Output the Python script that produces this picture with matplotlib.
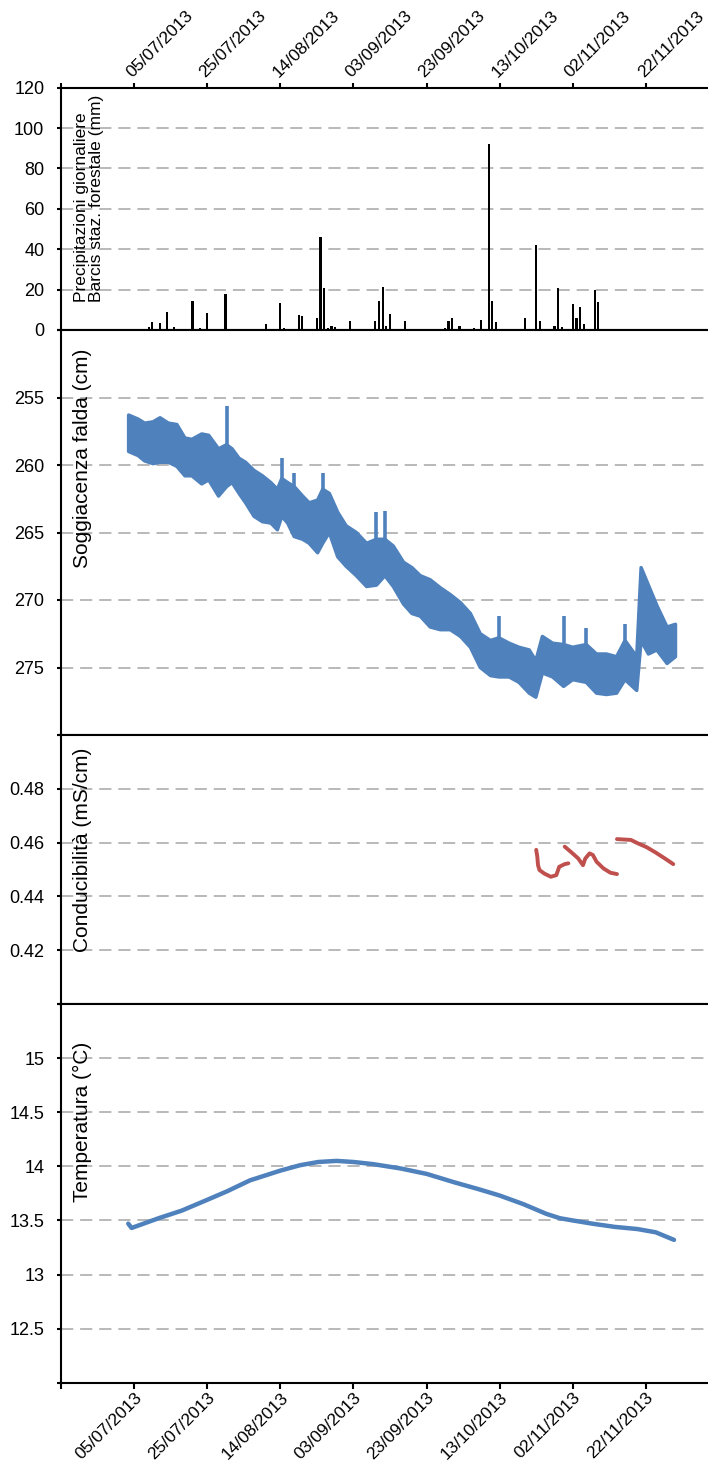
import numpy as np
import pandas as pd
import matplotlib
matplotlib.use('Agg')
import matplotlib.pyplot as plt
import matplotlib.dates as mdates

plt.rcParams['font.family'] = ['Liberation Sans', 'DejaVu Sans']

# all x values are days counted from 05/07/2013
START = pd.Timestamp('2013-07-05')

# daily rainfall, Barcis staz. forestale (mm)
rain_day = [-1, 4, 5, 7, 8, 9, 11, 16, 18, 20, 25, 36, 40, 41, 45, 46,
            50, 51, 52, 53, 54, 55, 59, 66, 67, 68, 69, 70, 74,
            85, 86, 87, 89, 92, 93, 95, 97, 98, 99, 107, 110, 111,
            115, 116, 117, 120, 121, 122, 123, 126, 127]
rain_mm = [0.5, 1.3, 4.0, 3.5, 0.5, 9.0, 1.3, 14.5, 0.8, 8.6, 17.8, 3.0, 13.4, 1.2, 7.3, 7.0,
           5.8, 46.0, 20.6, 0.8, 2.2, 1.3, 4.6, 4.6, 14.2, 21.1, 2.0, 7.9, 4.6,
           0.8, 4.6, 5.8, 2.1, 0.5, 1.2, 5.0, 92.2, 14.2, 4.0, 5.8, 42.0, 4.6,
           2.1, 20.6, 1.3, 12.9, 5.8, 11.2, 3.0, 19.8, 13.7]

# water table depth: upper / lower edge of the readings (cm)
gw_day = [-1.5, 1.1, 2.9, 5.2, 7.1, 9.4, 11.7, 13.9, 15.8, 18.5, 20.4, 23.1, 25.3, 26.8,
          28.7, 30.5, 32.8, 35.1, 37.4, 39.2, 40.4, 42.0, 43.8, 46.1, 47.9, 50.2, 51.6,
          53.4, 55.7, 58.0, 60.8, 63.6, 66.3, 68.6, 70.9, 73.7, 76.0, 78.3, 81.0, 83.8,
          86.5, 89.3, 92.0, 94.7, 97.5, 99.8, 102.6, 105.3, 108.1, 109.9, 111.7, 114.5,
          117.5, 120.0, 123.7, 126.5, 129.2, 132.0, 134.3, 137.5, 138.7, 140.7, 143.0,
          145.8, 148.1]
gw_top = [256.3, 256.6, 256.9, 256.8, 256.5, 256.9, 257.0, 258.0, 258.1, 257.7, 257.8, 258.8, 258.5, 258.8,
          259.5, 259.8, 260.4, 260.8, 261.3, 261.8, 261.0, 261.3, 261.6, 262.3, 262.8, 262.6, 261.8,
          262.1, 263.5, 264.5, 265.0, 265.8, 265.5, 265.5, 266.0, 267.2, 267.6, 268.2, 268.5, 269.1,
          269.6, 270.2, 271.0, 272.5, 273.0, 272.8, 273.2, 273.5, 273.7, 274.5, 272.7, 273.2,
          273.3, 273.5, 273.3, 274.0, 274.0, 274.2, 273.0, 274.2, 267.6, 268.9, 270.4,
          272.0, 271.8]
gw_bot = [259.0, 259.3, 259.7, 259.9, 259.8, 259.8, 260.1, 260.8, 260.8, 261.4, 261.1, 262.3, 261.6, 261.3,
          262.1, 262.8, 263.8, 264.2, 264.3, 264.8, 263.8, 264.3, 265.3, 265.5, 265.8, 266.5, 265.8,
          265.0, 266.8, 267.5, 268.2, 269.0, 268.9, 268.2, 269.0, 270.3, 271.0, 271.2, 272.0, 272.2,
          272.2, 272.7, 273.5, 275.0, 275.6, 275.7, 275.7, 276.1, 276.9, 277.2, 275.4, 275.7,
          276.4, 275.9, 276.1, 276.9, 277.0, 276.9, 275.9, 276.7, 273.0, 274.0, 273.7,
          274.7, 274.2]
# short rises of the water table
spike_day = [25.3, 40.4, 43.8, 51.6, 66.3, 68.6, 99.8, 117.5, 123.7, 134.3]
spike_top = [255.6, 259.5, 260.6, 260.6, 263.5, 263.4, 271.2, 271.2, 272.1, 271.8]
spike_base = [259.0, 261.5, 262.0, 262.0, 266.0, 266.0, 273.5, 274.0, 274.0, 274.0]

# electrical conductivity (mS/cm), three logger runs
cond_a_day = [110.0, 110.3, 110.5, 110.9, 112.2, 114.0, 115.5, 116.3, 117.8, 118.8]
cond_a_val = [0.4573, 0.4548, 0.4516, 0.4498, 0.4485, 0.4473, 0.4479, 0.4510, 0.4520, 0.4523]
cond_b_day = [117.8, 119.7, 121.5, 122.8, 123.4, 124.6, 125.5, 126.5, 128.4, 130.3, 132.1]
cond_b_val = [0.4585, 0.4563, 0.4541, 0.4516, 0.4540, 0.4560, 0.4554, 0.4529, 0.4504, 0.4488, 0.4483]
cond_c_day = [132.1, 135.9, 137.7, 140.2, 142.7, 145.2, 147.5]
cond_c_val = [0.4613, 0.4610, 0.4598, 0.4583, 0.4563, 0.4541, 0.4520]

# groundwater temperature (°C)
temp_day = [-1.6, -0.7, 6.7, 13.0, 20.0, 25.5, 31.7, 40.0, 45.4, 50.4, 55.4, 60.0, 65.4,
            72.9, 80.0, 87.8, 94.1, 100.0, 106.5, 112.8, 116.5, 119.9, 125.3, 131.5,
            137.7, 142.7, 147.7]
temp_val = [13.47, 13.43, 13.52, 13.59, 13.69, 13.77, 13.87, 13.96, 14.01, 14.04, 14.05, 14.04, 14.02,
            13.98, 13.93, 13.85, 13.79, 13.73, 13.65, 13.56, 13.52, 13.50, 13.47, 13.44,
            13.42, 13.39, 13.32]

tick_dates = ['2013-06-15', '2013-07-05', '2013-07-25', '2013-08-14', '2013-09-03',
              '2013-09-23', '2013-10-13', '2013-11-02', '2013-11-22']


def to_num(days):
    # matplotlib date numbers for a list of day offsets
    return mdates.date2num(START.to_pydatetime()) + np.asarray(days, dtype=float)


BLUE = '#4F81BD'
RED = '#C0504D'
GRID = dict(color='#A6A6A6', linewidth=1.1, linestyle=(0, (8, 4.5)))
W, H = 708, 1461

fig = plt.figure(figsize=(W / 100, H / 100), dpi=100)


def add_panel(top, bottom):
    ax = fig.add_axes([61 / W, 1 - bottom / H, (W - 61) / W, (bottom - top) / H])
    ax.spines['right'].set_visible(False)
    for s in ['left', 'top', 'bottom']:
        ax.spines[s].set_linewidth(1.5)
    ax.set_xlim(mdates.datestr2num('2013-06-15'), mdates.datestr2num('2013-12-09'))
    ax.set_xticks(mdates.datestr2num(tick_dates))
    ax.xaxis.set_major_formatter(mdates.DateFormatter('%d/%m/%Y'))
    ax.tick_params(axis='x', bottom=False, labelbottom=False, length=3.5, width=1.5)
    ax.tick_params(axis='y', direction='out', length=3, width=1.5, pad=9, labelsize=13)
    ax.yaxis.grid(True, **GRID)
    ax.set_axisbelow(True)
    return ax


def set_y(ax, ticks, labels):
    ax.set_yticks(ticks)
    ax.set_yticklabels(labels)


labels = [''] + [pd.Timestamp(d).strftime('%d/%m/%Y') for d in tick_dates[1:]]

# rainfall
ax1 = add_panel(87.7, 330)
ax1.bar(to_num(rain_day), rain_mm, width=0.6, color='black')
ax1.set_ylim(0, 120)
set_y(ax1, range(0, 121, 20), [str(v) for v in range(0, 121, 20)])
ax1.tick_params(axis='x', top=True, labeltop=True, labelsize=12.5, pad=2)
ax1.set_xticklabels(labels)
for t in ax1.get_xticklabels():
    t.set_rotation(45)
    t.set_ha('left')
    t.set_va('bottom')
    t.set_rotation_mode('anchor')

# water table depth: band between the two edges, outlined with round joins
ax2 = add_panel(330, 735)
gx = to_num(gw_day)
ax2.fill(np.concatenate([gx, gx[::-1]]), np.concatenate([gw_top, gw_bot[::-1]]),
         facecolor=BLUE, edgecolor=BLUE, linewidth=2.5, joinstyle='round')
ax2.vlines(to_num(spike_day), spike_top, spike_base, color=BLUE, linewidth=2.6)
ax2.set_ylim(280, 250)
set_y(ax2, range(250, 281, 5), [''] + [str(v) for v in range(255, 276, 5)] + [''])

# conductivity
ax3 = add_panel(735, 1004)
for d, v in [(cond_a_day, cond_a_val), (cond_b_day, cond_b_val), (cond_c_day, cond_c_val)]:
    ax3.plot(to_num(d), v, color=RED, linewidth=2.8, solid_capstyle='round')
ax3.set_ylim(0.40, 0.50)
set_y(ax3, [0.40, 0.42, 0.44, 0.46, 0.48, 0.50], ['', '0.42', '0.44', '0.46', '0.48', ''])
ax3.tick_params(axis='x', bottom=True, direction='out', length=3)

# temperature
ax4 = add_panel(1004, 1382.7)
ax4.plot(to_num(temp_day), temp_val, color=BLUE, linewidth=3.2, solid_capstyle='round')
ax4.set_ylim(12.0, 15.5)
set_y(ax4, [12.0, 12.5, 13.0, 13.5, 14.0, 14.5, 15.0, 15.5],
      ['', '12.5', '13', '13.5', '14', '14.5', '15', ''])
ax4.tick_params(axis='x', bottom=True, labelbottom=True, direction='out', length=4,
                labelsize=12.5, pad=1)
ax4.set_xticklabels(labels)
for t in ax4.get_xticklabels():
    t.set_rotation(45)
    t.set_ha('right')
    t.set_va('top')
    t.set_rotation_mode('anchor')

# axis titles sit inside the plotting area
fig.text(74 / W, 1 - 302 / H, 'Precipitazioni giornaliere\nBarcis staz. forestale (mm)',
         rotation=90, ha='left', va='bottom', multialignment='left', fontsize=12.5,
         linespacing=1.0)
fig.text(73 / W, 1 - 568 / H, 'Soggiacenza falda (cm)', rotation=90,
         ha='left', va='bottom', fontsize=15)
fig.text(73 / W, 1 - 952 / H, 'Conducibilità (mS/cm)', rotation=90,
         ha='left', va='bottom', fontsize=15)
fig.text(73 / W, 1 - 1202 / H, 'Temperatura (°C)', rotation=90,
         ha='left', va='bottom', fontsize=15)

fig.savefig('out.png', dpi=100)
